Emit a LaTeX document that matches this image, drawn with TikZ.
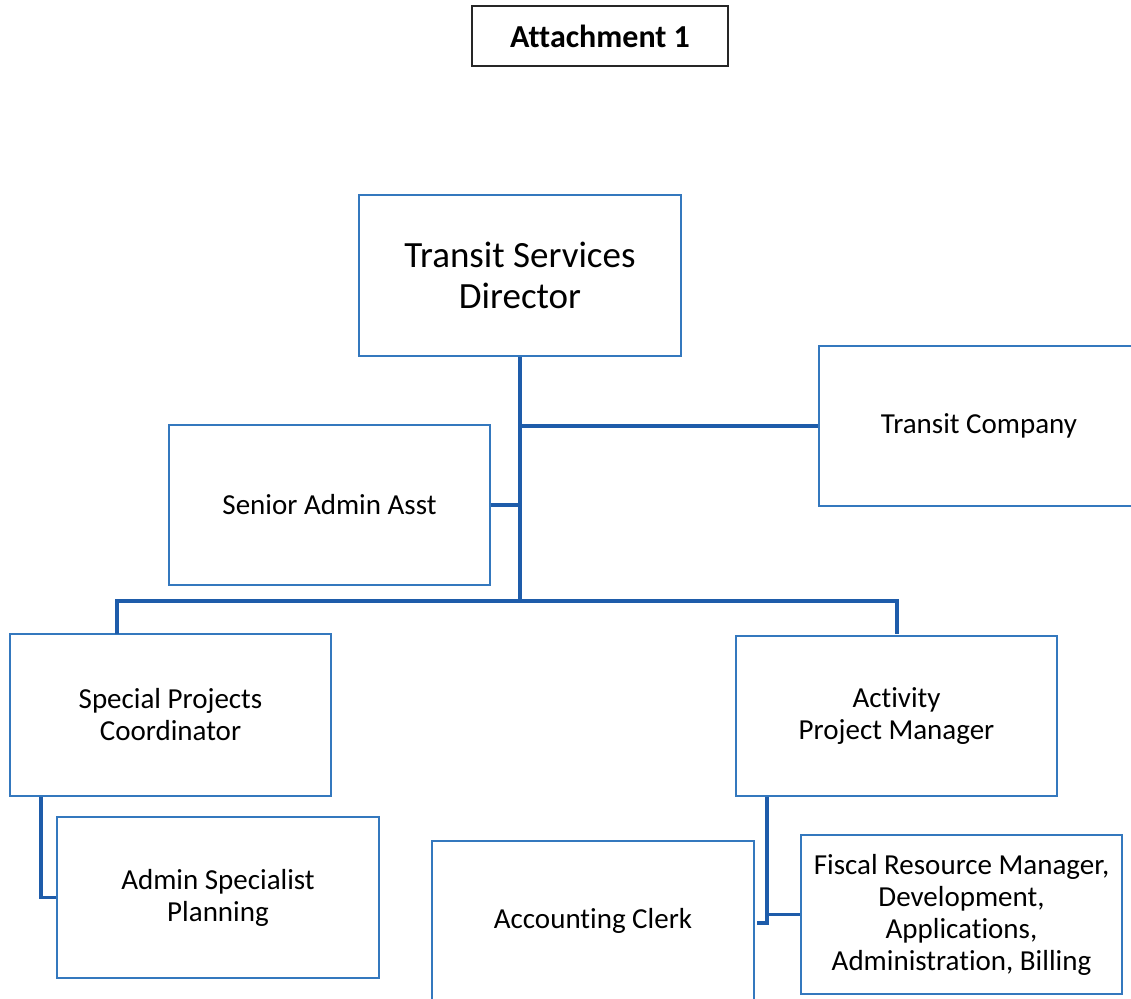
\documentclass[tikz,border=0pt]{standalone}
\usepackage{fontspec}
\setmainfont{Carlito}[RawFeature=-liga]
\definecolor{boxblue}{RGB}{52,120,190}
\definecolor{connblue}{RGB}{30,92,170}
\begin{document}
\begin{tikzpicture}[x=1pt,y=-1pt,
  orgbox/.style={draw=boxblue, line width=1.6pt, align=center, inner sep=2pt,
    font=\fontsize{29}{32}\selectfont},
  conn/.style={draw=connblue, line width=3.6pt},
  attbox/.style={draw=black!85, line width=1.4pt, inner sep=0pt,
    font=\bfseries\fontsize{32}{36}\selectfont}]
\useasboundingbox (0,0) rectangle (1131,998);
\node[attbox, minimum width=256pt, minimum height=60pt] (att) at (600,36) {Attachment 1};
\node[orgbox, minimum width=322pt, minimum height=161pt,
  font=\fontsize{37}{41}\selectfont] (dir) at (520,275.5) {Transit Services\\Director};
\node[orgbox, minimum width=320pt, minimum height=160pt] (tc) at (979,426) {Transit Company};
\node[orgbox, minimum width=321pt, minimum height=160pt] (saa) at (329.5,505) {Senior Admin Asst};
\node[orgbox, minimum width=321pt, minimum height=162pt] (spc) at (170.5,715) {Special Projects\\Coordinator};
\node[orgbox, minimum width=321pt, minimum height=160pt] (apm) at (896.5,716) {Activity\\Project Manager};
\node[orgbox, minimum width=322pt, minimum height=161pt] (asp) at (218,897.5) {Admin Specialist\\Planning};
\node[orgbox, minimum width=322pt, minimum height=160pt] (acc) at (593,921) {Accounting Clerk};
\node[orgbox, minimum width=321pt, minimum height=159pt] (frm) at (961.5,914.5) {Fiscal Resource Manager,\\Development,\\Applications,\\Administration, Billing};
% connectors
\coordinate (busy) at (0,601);
\coordinate (dl) at (117,634);
\coordinate (dr) at (897,634);
\draw[conn] (dir.south) -- (dir.south |- busy);
\draw[conn] (dir.south |- tc.west) -- (tc.west);
\draw[conn] (saa.east) -- (saa.east -| dir.south);
\draw[conn] (dl) -- (dl |- busy) -- (dr |- busy) -- (dr);
\draw[conn] ([xshift=32pt]spc.south west) |- (asp.west);
\coordinate (av) at ([xshift=32pt]apm.south west);
\draw[conn] (av) -- ++(0,126) -- ++(-10,0);
\draw[conn] (frm.west) -- (frm.west -| av);
\end{tikzpicture}
\end{document}
